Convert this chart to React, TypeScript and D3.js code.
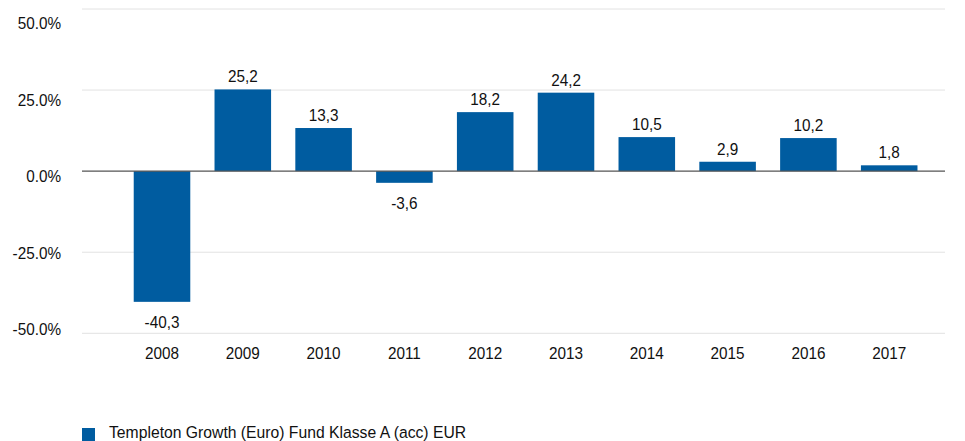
import React from "react";
import * as d3 from "d3";

const years = ["2008","2009","2010","2011","2012","2013","2014","2015","2016","2017"];
const values = [-40.3, 25.2, 13.3, -3.6, 18.2, 24.2, 10.5, 2.9, 10.2, 1.8];
const yTicks = [-50, -25, 0, 25, 50];
const seriesName = "Templeton Growth (Euro) Fund Klasse A (acc) EUR";

const W = 965, H = 441;
const FONT = "'Liberation Sans', Arial, sans-serif";
const BLUE = "#005ca0";
const FS = 17;

function T({ x, y, anchor = "middle", sx = 0.9, children }: { x: number; y: number; anchor?: string; sx?: number; children: React.ReactNode }) {
  return (
    <text transform={`translate(${x},${y}) scale(${sx},1)`} textAnchor={anchor} dy="0.35em" fontSize={FS} fill="#111">
      {children}
    </text>
  );
}

export default function App() {
  const y = d3.scaleLinear().domain([-50, 50]).range([333.3, 9]);
  const yLab = d3.scaleLinear().domain([-50, 50]).range([329, 23.3]);
  const x = d3.scaleBand().domain(years).range([121.6, 929.6]).paddingInner(0.3).paddingOuter(0.15);
  const fmtTick = (v: number) => v.toFixed(1) + "%";
  const fmtVal = (v: number) => v.toFixed(1).replace(".", ",");
  const cx = (yr: string) => (x(yr) as number) + x.bandwidth() / 2;
  return (
    <svg width={W} height={H} style={{ position: "absolute", left: 0, top: 0 }} fontFamily={FONT}>
      {yTicks.filter(t => t !== 0).map(t => (
        <line key={t} x1={82} x2={945} y1={y(t)} y2={y(t)} stroke="#e2e2e2" strokeWidth={1} />
      ))}
      {yTicks.map(t => (
        <T key={"t" + t} x={61} y={yLab(t)} anchor="end">{fmtTick(t)}</T>
      ))}
      {values.map((v, i) => (
        <rect key={years[i]} x={x(years[i])} width={x.bandwidth()} y={y(Math.max(0, v))} height={Math.abs(y(v) - y(0))} fill={BLUE} />
      ))}
      <line x1={82} x2={945} y1={y(0)} y2={y(0)} stroke="#555" strokeWidth={1.2} />
      {values.map((v, i) => (
        <T key={"v" + i} x={cx(years[i])} y={v >= 0 ? y(v) - 13 : y(v) + 20}>{fmtVal(v)}</T>
      ))}
      {years.map(yr => (
        <T key={"x" + yr} x={cx(yr)} y={353.5}>{yr}</T>
      ))}
      <rect x={82} y={428} width={13} height={13} fill={BLUE} />
      <T x={109} y={432.5} anchor="start" sx={0.925}>{seriesName}</T>
    </svg>
  );
}
